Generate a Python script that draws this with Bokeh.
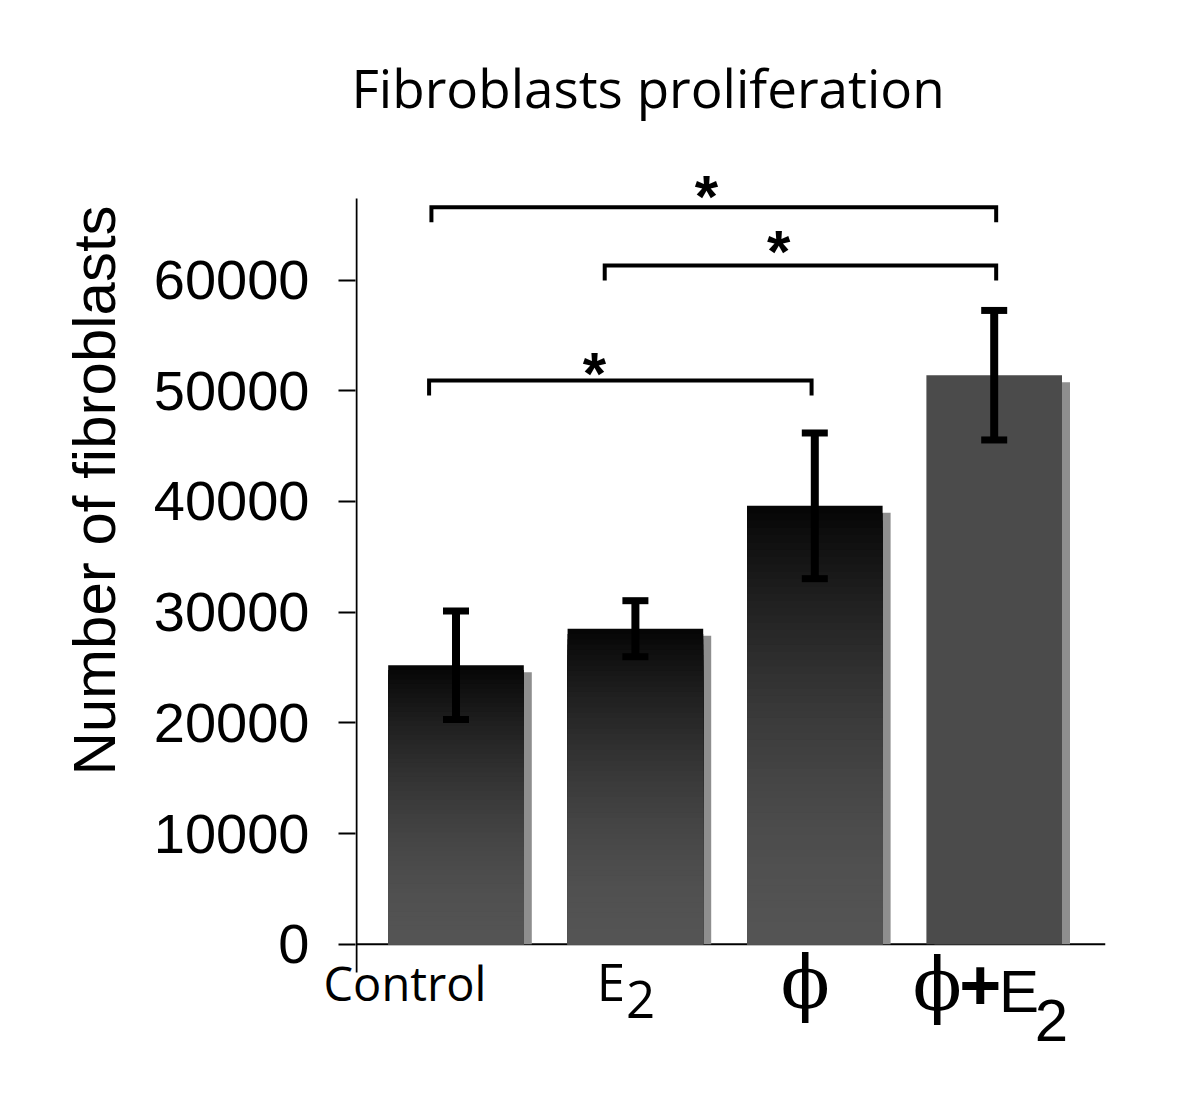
import math
from bokeh.plotting import figure
from bokeh.models import FixedTicker
from bokeh.core.properties import value
from bokeh.embed import file_html
from bokeh.resources import INLINE

# ---------------- data ----------------
categories = ["Control", "E2", "ϕ", "ϕ+E2"]
means = [25200, 28500, 39600, 51400]
errors = [4900, 2530, 6580, 5850]
y_ticks = [0, 10000, 20000, 30000, 40000, 50000, 60000]
y_title = "Number of fibroblasts"
title = "Fibroblasts proliferation"

# significance brackets (x in category units, y in data units)
brack_x0 = [-0.137, 0.829, -0.150]
brack_x1 = [3.011, 3.011, 1.982]
brack_y = [66580, 61310, 50920]
star_x = [1.396, 1.798, 0.772]
star_y = [68270, 63300, 52280]

# ---------------- layout ----------------
W, H = 1184, 1089
FL, FR, FT, FB = 355, 1105, 125, 1062          # frame edges (px)
PX_CAT = 179.4                                  # px per category
X0_PX = 455.5                                   # px of category 0
ZERO_PX = 943.7                                 # px of y = 0
PX_UNIT = 0.01107                               # px per y unit


def xd(px):
    return (px - X0_PX) / PX_CAT


def yd(px):
    return (ZERO_PX - px) / PX_UNIT


p = figure(width=W, height=H, x_range=(xd(FL), xd(FR)), y_range=(yd(FB), yd(FT)),
           output_backend="svg", toolbar_location=None, x_axis_location=None,
           min_border_left=FL, min_border_right=W - FR, min_border_top=FT,
           min_border_bottom=H - FB)
p.outline_line_color = None
p.grid.visible = False
p.background_fill_color = "white"
p.border_fill_color = "white"

# title
p.title.text = title
p.title.text_font = "Open Sans"
p.title.text_font_size = "53px"
p.title.text_font_style = "normal"
p.title.text_color = "black"
p.title.align = "left"
p.title.offset = -4
p.title.standoff = 4

# y axis (ticks + labels from Bokeh)
ya = p.yaxis[0]
ya.ticker = FixedTicker(ticks=y_ticks)
ya.axis_line_color = None
ya.major_tick_out = 17
ya.major_tick_in = 0
ya.major_tick_line_width = 2
ya.major_tick_line_color = "black"
ya.minor_tick_line_color = None
ya.major_label_standoff = 29
ya.major_label_text_font = "Liberation Sans"
ya.major_label_text_font_size = "56px"
ya.major_label_text_color = "black"

# axis lines
ax_x = xd(356)
p.segment(x0=[ax_x], y0=[yd(972)], x1=[ax_x], y1=[yd(198)], line_width=2, line_color="black")
p.segment(x0=[ax_x], y0=[0], x1=[xd(FR)], y1=[0], line_width=2, line_color="black")

# bars
xs = list(range(len(categories)))
bar_w = 135.6 / PX_CAT
shadow_dx = 8 / PX_CAT
shadow_dy = 7 / PX_UNIT
gradient = [True, True, True, False]

p.vbar(x=[x + shadow_dx for x in xs], top=[m - shadow_dy for m in means], bottom=0,
       width=bar_w, fill_color="#8e8e8e", line_color=None)

N = 60
for i, (x, m) in enumerate(zip(xs, means)):
    if gradient[i]:
        tops, cols = [], []
        for k in range(N):
            f = k / N
            c = int(round(6 + 78 * (1 - (1 - f) ** 1.7)))
            tops.append(m * (1 - f))
            cols.append("#%02x%02x%02x" % (c, c, c))
        p.vbar(x=[x] * N, top=tops, bottom=0, width=bar_w, fill_color=cols, line_color=None)
    else:
        p.vbar(x=[x], top=[m], bottom=0, width=bar_w, fill_color="#4b4b4b", line_color=None)

# error bars
lo = [m - e for m, e in zip(means, errors)]
hi = [m + e for m, e in zip(means, errors)]
p.segment(x0=xs, y0=lo, x1=xs, y1=hi, line_width=8, line_color="black")
p.rect(x=xs + xs, y=lo + hi, width=26, height=7, width_units="screen", height_units="screen",
       fill_color="black", line_color=None)

# significance brackets
drop = 15 / PX_UNIT
bx = [[a, a, b, b] for a, b in zip(brack_x0, brack_x1)]
by = [[h - drop, h, h, h - drop] for h in brack_y]
p.multi_line(xs=bx, ys=by, line_width=4, line_color="black", line_join="miter")
p.text(x=star_x, y=star_y, text=["*"] * len(star_x), text_font=value("Liberation Sans"),
       text_font_style="bold", text_font_size="60px", text_align="center",
       text_baseline="alphabetic", y_offset=8, text_color="black")

# category labels (pieces: category index, text, x offset px, y offset px, font, size, style, align)
pieces = [
    (0, "Control", -132.5, 38.4, "Open Sans", 47, "normal", "left"),
    (1, "E", -38.6, 36.6, "Open Sans", 51, "normal", "left"),
    (1, "2", -9.3, 55, "Open Sans", 51, "normal", "left"),
    (2, "\u03d5", -9.5, 38.9, "DejaVu Serif", 72, "normal", "center"),
    (3, "\u03d5", -57, 40.9, "DejaVu Serif", 72, "normal", "center"),
    (3, "+", -14, 40.9, "Liberation Sans", 72, "bold", "center"),
    (3, "E", 4.8, 47.3, "Liberation Sans", 60, "normal", "left"),
    (3, "2", 40.5, 76, "Liberation Sans", 60, "normal", "left"),
]
for ci, t, dx, dy, font, size, style, align in pieces:
    p.text(x=[xs[ci]], y=[0], text=[t], x_offset=dx, y_offset=dy, text_font=value(font),
           text_font_size="%dpx" % size, text_font_style=style, text_align=align,
           text_baseline="alphabetic", text_color="black", level="overlay")

# y axis title
p.text(x=[xd(121 - 27)], y=[yd(490)], text=[y_title], angle=math.pi / 2,
       text_font=value("Liberation Sans"), text_font_size="60px", text_align="center",
       text_baseline="alphabetic", text_color="black", level="overlay")

open("out.html", "w").write(file_html(p, INLINE))
